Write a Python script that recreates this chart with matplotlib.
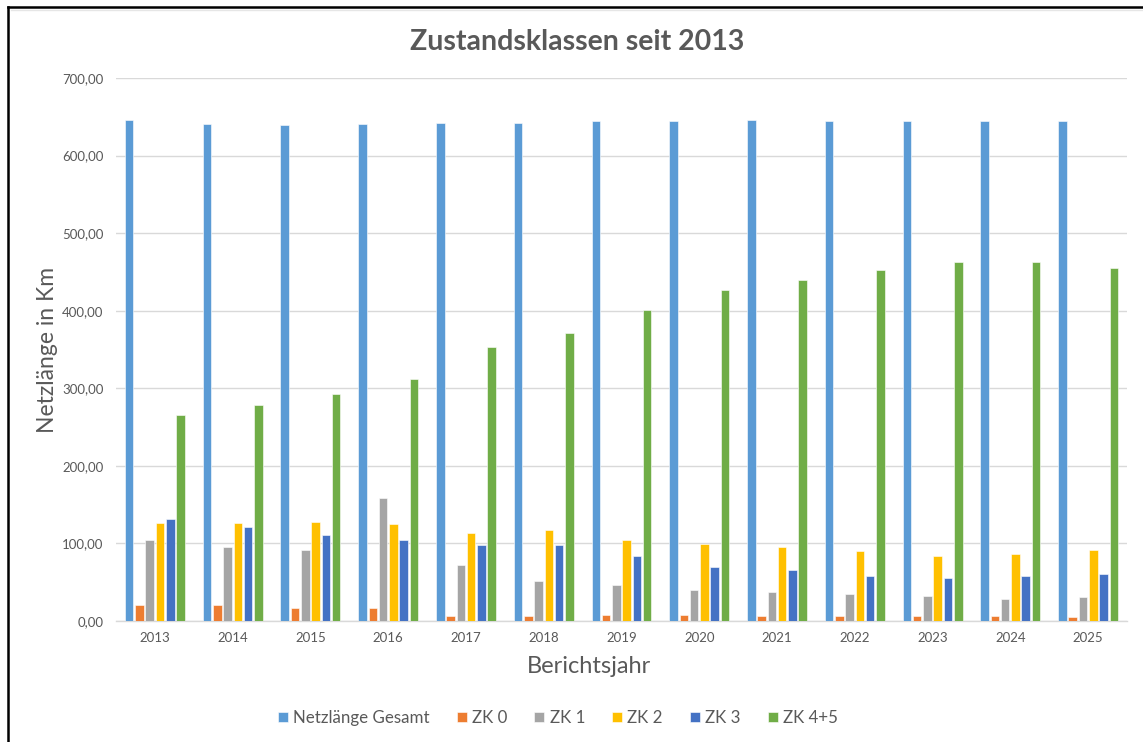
import numpy as np
import matplotlib
matplotlib.use('Agg')
import matplotlib.pyplot as plt
from matplotlib.ticker import FuncFormatter, MultipleLocator
from matplotlib.lines import Line2D

plt.rcParams['font.family'] = ['Lato', 'DejaVu Sans']

# Daten
jahre = ['2013', '2014', '2015', '2016', '2017', '2018', '2019',
         '2020', '2021', '2022', '2023', '2024', '2025']
netzlaenge = [646, 641, 640, 641, 642, 642, 644, 644, 646, 644, 644, 644, 644]
zk0 = [20, 20, 17, 17, 7, 6.5, 8, 8, 6.5, 7, 7, 7, 5]
zk1 = [104, 96, 92, 158, 72, 51, 46, 40, 37, 35, 32, 29, 31]
zk2 = [126, 126, 128, 125, 114, 117, 105, 99, 96, 90, 84, 86, 92]
zk3 = [131, 121, 111, 104, 98, 98, 84, 70, 66, 58, 56, 58, 61]
zk45 = [266, 278, 292, 312, 353, 371, 401, 427, 440, 452, 463, 463, 455]

serien = [netzlaenge, zk0, zk1, zk2, zk3, zk45]
namen = ['Netzlänge Gesamt', 'ZK 0', 'ZK 1', 'ZK 2', 'ZK 3', 'ZK 4+5']
farben = ['#5B9BD5', '#ED7D31', '#A5A5A5', '#FFC000', '#4472C4', '#70AD47']
grau = '#595959'

fig = plt.figure(figsize=(11.43, 7.42), dpi=100)
ax = fig.add_axes([116 / 1143, 1 - 621 / 742, 1011 / 1143, 543 / 742])

x = np.arange(len(jahre))
slot = 0.132
breite = 0.110
for i, (werte, name, farbe) in enumerate(zip(serien, namen, farben)):
    ax.bar(x + (i - 2.5) * slot, werte, width=breite, color=farbe,
           edgecolor='white', linewidth=0.4, label=name, zorder=3)

ax.set_xlim(-0.5, len(jahre) - 0.5)
ax.set_ylim(0, 700)
ax.yaxis.set_major_locator(MultipleLocator(100))
ax.yaxis.set_major_formatter(FuncFormatter(lambda v, p: f"{v:.2f}".replace('.', ',')))
ax.set_xticks(x)
ax.set_xticklabels(jahre)
ax.tick_params(axis='both', length=0, labelcolor=grau, labelsize=9.5)
ax.tick_params(axis='y', pad=9)
ax.tick_params(axis='x', pad=8)
ax.grid(axis='y', color='#D9D9D9', linewidth=1.0, zorder=0)
for s in ['top', 'right', 'left']:
    ax.spines[s].set_visible(False)
ax.spines['bottom'].set_color('#D9D9D9')
ax.spines['bottom'].set_linewidth(1.0)

ax.set_xlabel('Berichtsjahr', fontsize=17, color=grau, va='center')
ax.xaxis.set_label_coords(0.468, -0.083)
ax.set_ylabel('Netzlänge in Km', fontsize=16.5, color=grau, va='center')
ax.yaxis.set_label_coords(-0.068, 0.499)

fig.suptitle('Zustandsklassen seit 2013', x=0.505, y=1 - 42 / 742, va='center',
             fontsize=20.5, fontweight='bold', color=grau)

leg = ax.legend(loc='center', bbox_to_anchor=(0.488, 1 - 718 / 742),
                bbox_transform=fig.transFigure, ncol=6, frameon=False,
                fontsize=12.2, handlelength=0.6, handleheight=0.6,
                handletextpad=0.3, columnspacing=1.6, labelcolor=grau)

# Rahmen des Screenshots
fig.add_artist(Line2D([8 / 1143, 1], [1 - 7 / 742, 1 - 7 / 742], color='black', lw=1.8,
                      transform=fig.transFigure))
fig.add_artist(Line2D([8 / 1143, 8 / 1143], [0, 1 - 7 / 742], color='black', lw=1.8,
                      transform=fig.transFigure))
fig.add_artist(Line2D([11 / 1143, 1], [1 - 10 / 742, 1 - 10 / 742], color='#E6E6E6', lw=1,
                      transform=fig.transFigure))

fig.savefig('out.png', dpi=100)
